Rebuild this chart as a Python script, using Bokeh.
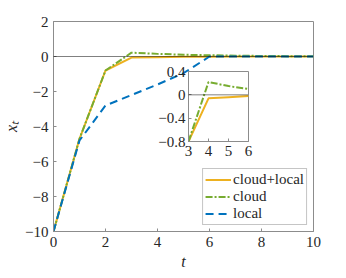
from bokeh.plotting import figure
from bokeh.models import Range1d, FixedTicker, Span, Legend, LegendItem
from bokeh.layouts import column
from bokeh.embed import file_html
from bokeh.resources import INLINE

t = [0, 1, 2, 3, 4, 5, 6, 7, 8, 9, 10]
cloud_local = [-10, -4.7, -0.8, -0.06, -0.04, -0.02, -0.01, 0, 0, 0, 0]
cloud = [-10, -4.7, -0.8, 0.22, 0.15, 0.10, 0.07, 0.05, 0.03, 0.02, 0.01]
local = [-10, -4.8, -2.8, -2.2, -1.6, -0.95, 0.0, 0.0, 0.0, 0.0, 0.0]
inset_t = [3, 4, 5, 6]
inset_cloud_local = [-0.8, -0.06, -0.04, -0.02]
inset_cloud = [-0.8, 0.22, 0.15, 0.10]
x_ticks = [0, 2, 4, 6, 8, 10]
y_ticks = [-10, -8, -6, -4, -2, 0, 2]
inset_x_ticks = [3, 4, 5, 6]
inset_y_ticks = [-0.8, -0.4, 0, 0.4]

ORANGE = "#EDB120"
GREEN = "#77AC30"
BLUE = "#0072BD"
AX = "#8c8c8c"
TXT = "#262626"
FONT = "Times New Roman"


def style_axis(ax, ticks):
    ax.ticker = FixedTicker(ticks=ticks)
    ax.minor_tick_line_color = None
    ax.major_tick_in = 3
    ax.major_tick_out = 0
    ax.axis_line_color = AX
    ax.major_tick_line_color = AX
    ax.major_label_text_font = FONT
    ax.major_label_text_font_size = "15px"
    ax.major_label_text_color = TXT
    ax.axis_label_text_font = FONT
    ax.axis_label_text_font_size = "16px"
    ax.axis_label_text_font_style = "italic"
    ax.axis_label_text_color = TXT


p = figure(width=340, height=276, output_backend="svg", toolbar_location=None,
           x_range=Range1d(0, 10), y_range=Range1d(-10, 2),
           min_border_left=52, min_border_right=27, min_border_top=21, min_border_bottom=45)
p.grid.visible = False
p.outline_line_color = AX
p.background_fill_color = "white"
style_axis(p.xaxis[0], x_ticks)
style_axis(p.yaxis[0], y_ticks)
p.xaxis[0].axis_label = "t"
p.yaxis[0].axis_label = "xₜ"
p.xaxis[0].major_label_standoff = 5
p.yaxis[0].major_label_standoff = 5
p.xaxis[0].axis_label_standoff = 3
p.yaxis[0].axis_label_standoff = 2

p.add_layout(Span(location=0, dimension="width", line_color="black", line_width=1, line_dash="1 1"))

r1 = p.line(t, cloud_local, line_color=ORANGE, line_width=2)
r2 = p.line(t, cloud, line_color=GREEN, line_width=2, line_dash="7 2 2 2")
r3 = p.line(t, local, line_color=BLUE, line_width=2, line_dash="8 5")

legend = Legend(items=[LegendItem(label="cloud+local", renderers=[r1]),
                       LegendItem(label="cloud", renderers=[r2]),
                       LegendItem(label="local", renderers=[r3])],
                location="bottom_right")
legend.label_text_font = FONT
legend.label_text_font_size = "15px"
legend.label_text_color = TXT
legend.border_line_color = AX
legend.margin = 6
legend.padding = 2
legend.spacing = 0
legend.glyph_width = 26
legend.glyph_height = 17
legend.label_height = 17
legend.label_standoff = 2
p.add_layout(legend)

inset = figure(width=140, height=102, output_backend="svg", toolbar_location=None,
               x_range=Range1d(3, 6), y_range=Range1d(-0.8, 0.4),
               min_border_left=32, min_border_right=5, min_border_top=10, min_border_bottom=22)
inset.grid.visible = False
inset.outline_line_color = AX
inset.background_fill_color = "white"
inset.border_fill_alpha = 0
style_axis(inset.xaxis[0], inset_x_ticks)
style_axis(inset.yaxis[0], inset_y_ticks)
inset.xaxis[0].major_label_standoff = 4
inset.yaxis[0].major_label_standoff = 3
inset.add_layout(Span(location=0, dimension="width", line_color="black", line_width=1, line_dash="1 1"))
inset.line(inset_t, inset_cloud_local, line_color=ORANGE, line_width=2)
inset.line(inset_t, inset_cloud, line_color=GREEN, line_width=2, line_dash="7 2 2 2")
inset.styles = {"position": "absolute", "left": "135px", "top": "61px"}

layout = column(p, inset)
open("out.html", "w").write(file_html(layout, INLINE))
